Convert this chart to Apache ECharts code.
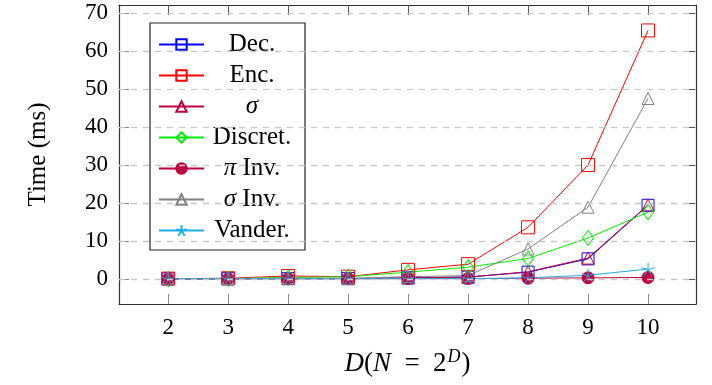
<!DOCTYPE html>
<html>
<head>
<meta charset="utf-8">
<script src="https://cdn.jsdelivr.net/npm/echarts@6/dist/echarts.min.js"></script>
<style>html,body{margin:0;padding:0;background:#fff}#c{width:712px;height:385px}</style>
</head>
<body>
<div id="c"></div>
<script>
const D = [2, 3, 4, 5, 6, 7, 8, 9, 10];
const xTicks = [2, 3, 4, 5, 6, 7, 8, 9, 10];
const yTicks = [0, 10, 20, 30, 40, 50, 60, 70];
const seriesNames = ['Dec.', 'Enc.', 'σ', 'Discret.', 'π Inv.', 'σ Inv.', 'Vander.'];
const dec     = [0.05, 0.08, 0.1, 0.1, 0.3, 0.5, 1.8, 5.3, 19.4];
const enc     = [0.1, 0.2, 0.8, 0.6, 2.4, 3.9, 13.6, 30.0, 65.4];
const sigma   = [0.05, 0.08, 0.1, 0.1, 0.3, 0.5, 1.9, 5.5, 19.5];
const discret = [0.05, 0.1, 0.4, 0.6, 1.8, 3.1, 5.4, 10.8, 17.6];
const piInv   = [0.02, 0.03, 0.05, 0.05, 0.1, 0.1, 0.2, 0.3, 0.4];
const sigmaInv= [0.05, 0.1, 0.2, 0.2, 0.6, 0.9, 7.9, 18.9, 47.5];
const vander  = [0.02, 0.03, 0.05, 0.05, 0.1, 0.1, 0.3, 1.0, 2.6];

const serif = "'Liberation Serif', 'DejaVu Serif', serif";
const starPath = 'path://M0,-1 L0,0 M0.951,-0.309 L0,0 M0.588,0.809 L0,0 M-0.588,0.809 L0,0 M-0.951,-0.309 L0,0';
function pts(arr){ return D.map((d,i)=>[d, arr[i]]); }
function mk(name, arr, color, symbol, size, filled){
  return {
    name: name, type: 'line', data: pts(arr),
    symbol: symbol, symbolSize: size, showAllSymbol: true,
    lineStyle: {color: color, width: 1},
    itemStyle: {color: filled ? color : 'rgba(255,255,255,0)', borderColor: color, borderWidth: 1},
    emphasis: {disabled: true},
    animation: false
  };
}
const series = [
  mk(seriesNames[0], dec, '#0000ff', 'rect', 12, false),
  mk(seriesNames[1], enc, '#ff0000', 'rect', 13, false),
  mk(seriesNames[2], sigma, '#bf0040', 'triangle', 12, false),
  mk(seriesNames[3], discret, '#00ee00', 'diamond', [11, 15], false),
  mk(seriesNames[4], piInv, '#bf0040', 'circle', 12, true),
  mk(seriesNames[5], sigmaInv, '#808080', 'triangle', 12, false),
  mk(seriesNames[6], vander, '#1aaee8', starPath, 13, false)
];
series.push({
  type: 'line', data: [], silent: true, animation: false,
  markLine: {
    silent: true, symbol: 'none', label: {show: false},
    lineStyle: {color: '#c8c8c8', type: [6, 6], width: 1.3},
    data: yTicks.map(v => ({yAxis: v}))
  },
  z: 0
});

const chart = echarts.init(document.getElementById('c'), null, {renderer: 'canvas'});
const axisLine = {show: true, onZero: false, lineStyle: {color: '#333', width: 1.2}};
const base = {fontFamily: serif, fontSize: 25, color: '#000', lineHeight: 31, align: 'center'};
chart.setOption({
  backgroundColor: '#fff',
  animation: false,
  grid: {left: 119, right: 16, top: 5, bottom: 81},
  xAxis: [{
    type: 'value', min: 1.18, max: 10.8, position: 'bottom',
    axisLine: axisLine,
    axisTick: {show: true, inside: true, length: 10, customValues: xTicks, lineStyle: {color: '#888'}},
    axisLabel: {customValues: xTicks, margin: 12, fontFamily: serif, fontSize: 23, color: '#000'},
    splitLine: {show: false},
    name: '{i|D}{n|(}{i|N}{n|\u2002=\u20022}{s|D}{n|)}', nameLocation: 'middle', nameGap: 44,
    nameTextStyle: {rich: {
      i: {fontFamily: serif, fontStyle: 'italic', fontSize: 27, color: '#000'},
      n: {fontFamily: serif, fontSize: 27, color: '#000'},
      s: {fontFamily: serif, fontStyle: 'italic', fontSize: 18, color: '#000', verticalAlign: 'top', padding: [0,1,14,1]}
    }}
  }, {
    type: 'value', min: 1.18, max: 10.8, position: 'top',
    axisLine: axisLine,
    axisTick: {show: true, inside: true, length: 10, customValues: xTicks, lineStyle: {color: '#555'}},
    axisLabel: {show: false}, splitLine: {show: false}
  }],
  yAxis: [{
    type: 'value', min: -6.58, max: 72.1, position: 'left',
    axisLine: axisLine,
    axisTick: {show: true, inside: true, length: 10, customValues: yTicks, lineStyle: {color: '#888'}},
    axisLabel: {customValues: yTicks, margin: 11, fontFamily: serif, fontSize: 23, color: '#000'},
    splitLine: {show: false},
    name: 'Time (ms)', nameLocation: 'middle', nameGap: 68, nameRotate: 90,
    nameTextStyle: {fontFamily: serif, fontSize: 25, color: '#000'}
  }, {
    type: 'value', min: -6.58, max: 72.1, position: 'right',
    axisLine: axisLine,
    axisTick: {show: true, inside: true, length: 10, customValues: yTicks, lineStyle: {color: '#555'}},
    axisLabel: {show: false}, splitLine: {show: false}
  }],
  legend: {
    data: seriesNames, orient: 'vertical', left: 150, top: 23,
    backgroundColor: '#fff', borderColor: '#222', borderWidth: 1.2,
    padding: [6, 10, 4, 8], itemGap: 0, itemWidth: 45, itemHeight: 13,
    textStyle: {fontFamily: serif, fontSize: 25, color: '#000', width: 86, lineHeight: 31,
      rich: {
        t: base,
        m: Object.assign({}, base, {fontStyle: 'italic'})
      }},
    formatter: function(n){
      return n.split(/(σ|π)/).filter(s => s.length).map(s => (s === 'σ' || s === 'π') ? '{m|' + s + '}' : '{t|' + s + '}').join('');
    },
    selectedMode: false
  },
  series: series
});
</script>
</body>
</html>
